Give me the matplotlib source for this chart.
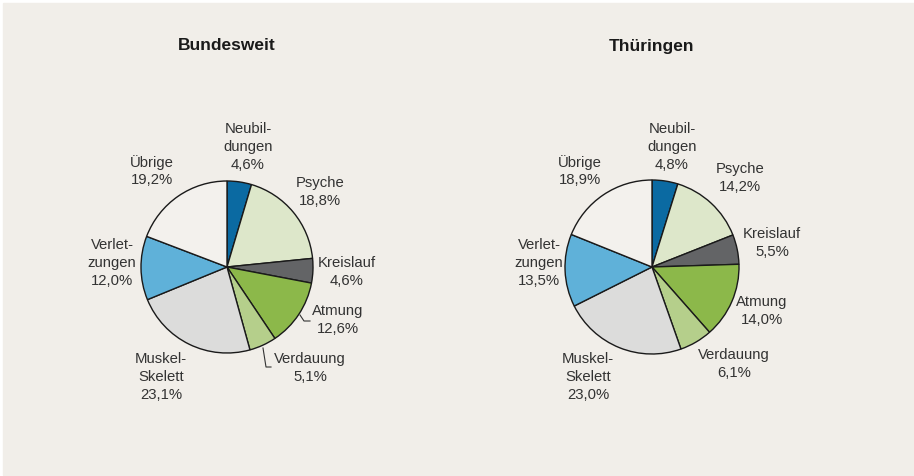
import matplotlib.pyplot as plt
from matplotlib.patches import Rectangle

plt.rcParams['font.family'] = ['Liberation Sans', 'DejaVu Sans']

# data
categories = ['Neubil-\ndungen', 'Psyche', 'Kreislauf', 'Atmung', 'Verdauung',
              'Muskel-\nSkelett', 'Verlet-\nzungen', 'Übrige']
bund_values = [4.6, 18.8, 4.6, 12.6, 5.1, 23.1, 12.0, 19.2]
thue_values = [4.8, 14.2, 5.5, 14.0, 6.1, 23.0, 13.5, 18.9]
titles = ['Bundesweit', 'Thüringen']

colors = ['#0b6aa2', '#dde7ca', '#636466', '#8cb84a', '#b5cf8b',
          '#dcdcdb', '#5fb1d9', '#f3f1ed']

W, H = 914, 477
fig = plt.figure(figsize=(W / 100, H / 100), dpi=100)
fig.patch.set_facecolor('white')
ax = fig.add_axes([0, 0, 1, 1])
ax.set_xlim(0, W)
ax.set_ylim(0, H)
ax.set_aspect('equal')
ax.axis('off')

ax.add_patch(Rectangle((3, 1), W - 3, H - 5, color='#f1eee9', zorder=0))


def fy(y):
    # pixel row from top -> data y
    return H - y


# label positions (pixels from top-left), per pie
label_pos = [
    [(248, 147), (320, 192), (347, 272), (338, 320), (310, 368),
     (161, 377), (112, 263), (152, 171)],
    [(672, 147), (740, 178), (772, 243), (762, 311), (734, 364),
     (588, 377), (539, 263), (580, 171)],
]
centers = [(227, 268), (652, 268)]
radii = [86, 87]

for values, title, (cx, cy), r, pos in zip([bund_values, thue_values], titles,
                                           centers, radii, label_pos):
    ax.pie(values, colors=colors, startangle=90, counterclock=False,
           center=(cx, fy(cy)), radius=r, frame=True,
           wedgeprops=dict(edgecolor='#1a1a1a', linewidth=1.0))
    ax.text(cx, fy(46), title, ha='center', va='center', fontsize=12.5,
            fontweight='bold', color='#1a1a1a')
    for name, v, (px, py) in zip(categories, values, pos):
        txt = name + '\n' + f'{v:.1f}'.replace('.', ',') + '%'
        ax.text(px, fy(py), txt, ha='center', va='center', fontsize=10.7,
                color='#333333', linespacing=1.35)

# leader lines (left pie)
ax.plot([300, 304, 310], [fy(316), fy(322), fy(322)], color='#333333', lw=0.8)
ax.plot([263, 266, 271], [fy(349), fy(368), fy(368)], color='#333333', lw=0.8)

ax.set_xlim(0, W)
ax.set_ylim(0, H)
ax.axis('off')

fig.savefig('out.png', dpi=100, facecolor='white')
